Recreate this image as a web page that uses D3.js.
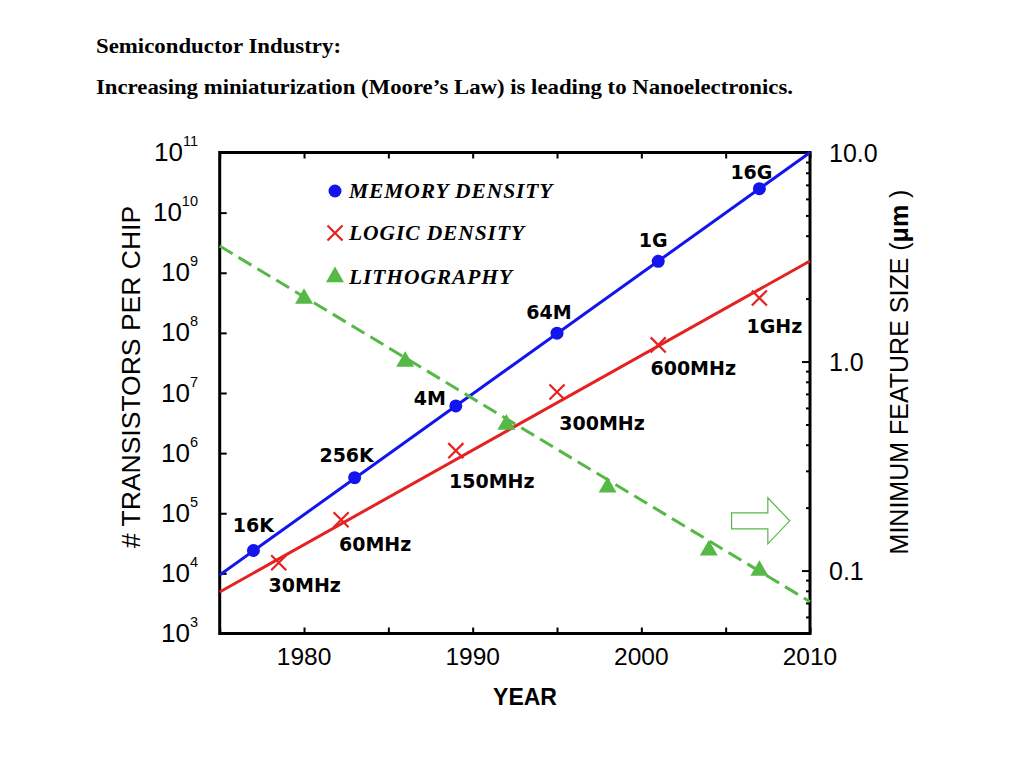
<!DOCTYPE html>
<html>
<head>
<meta charset="utf-8">
<script src="https://cdn.jsdelivr.net/npm/d3@7"></script>
<style>
  html, body { margin: 0; padding: 0; background: #fff; }
  svg { display: block; }
</style>
</head>
<body>
<svg id="chart" width="1024" height="768"></svg>
<script>
// ---------- data ----------
const memoryYears  = [1977, 1983, 1989, 1995, 2001, 2007];
const memoryValues = [2.4e4, 3.9e5, 6.1e6, 9.9e7, 1.55e9, 2.5e10];
const memoryLabels = ["16K", "256K", "4M", "64M", "1G", "16G"];

const logicYears  = [1978.5, 1982.2, 1989, 1995, 2001, 2007];
const logicValues = [1.5e4, 7.8e4, 1.1e6, 1.04e7, 6.3e7, 3.8e8];
const logicLabels = ["30MHz", "60MHz", "150MHz", "300MHz", "600MHz", "1GHz"];

const lithoYears  = [1980, 1986, 1992, 1998, 2004, 2007];
const lithoValues = [2.0, 1.0, 0.5, 0.25, 0.125, 0.1];   // µm, right axis

const memoryTrendYears = [1975, 2010], memoryTrendValues = [9.4e3, 1.0e11];
const logicTrendYears  = [1975, 2010], logicTrendValues  = [4.9e3, 1.57e9];
const lithoTrendYears  = [1975, 2010], lithoTrendValues  = [3.57, 0.071];

const yearTicks     = [1975, 1980, 1985, 1990, 1995, 2000, 2005, 2010];
const yearLabels    = [1980, 1990, 2000, 2010];
const leftExponents = [3, 4, 5, 6, 7, 8, 9, 10, 11];
const rightMajor    = [0.1, 1, 10];
const rightLabels   = ["0.1", "1.0", "10.0"];
const legendNames   = ["MEMORY DENSITY", "LOGIC DENSITY", "LITHOGRAPHY"];

const titleLine1 = "Semiconductor Industry:";
const titleLine2 = "Increasing miniaturization (Moore\u2019s Law) is leading to Nanoelectronics.";

// ---------- layout / style ----------
const L = 219.7, R = 810, T = 152.5, B = 633.5;
const BLUE = "#1414ee", RED = "#e52222", GREEN = "#56b846";
const SANS = "'Liberation Sans', Arial, Helvetica, sans-serif";
const SERIF = "'Liberation Serif', 'Times New Roman', serif";
const LABF = "'DejaVu Sans', Verdana, sans-serif";

// label offsets (dx for centre, dy for baseline) relative to the point
const memOff = [[0, -19], [-8, -16], [-26, -1], [-8, -14], [-5, -14], [-8, -10]];
const logOff = [[26, 29], [34, 31], [36, 37], [45, 38], [35, 30], [15, 35]];

const svg = d3.select("#chart");

const x  = d3.scaleLinear().domain([1975, 2010]).range([L, R]);
const yL = d3.scaleLog().domain([1e3, 1e11]).range([B, T]);
const yR = d3.scaleLog().domain([0.05, 10]).range([B, T]);

// ---------- header ----------
svg.append("text").attr("x", 96).attr("y", 53)
  .attr("font-family", SERIF).attr("font-weight", "bold").attr("font-size", 22)
  .attr("textLength", 245).attr("lengthAdjust", "spacingAndGlyphs")
  .text(titleLine1);
svg.append("text").attr("x", 96).attr("y", 94)
  .attr("font-family", SERIF).attr("font-weight", "bold").attr("font-size", 22)
  .attr("textLength", 697).attr("lengthAdjust", "spacingAndGlyphs")
  .text(titleLine2);

// ---------- axes ticks ----------
function styleAxis(g) {
  g.select(".domain").remove();
  g.selectAll(".tick line").attr("stroke", "#000").attr("stroke-width", 2);
  g.selectAll(".tick text").remove();
}
svg.append("g").attr("transform", `translate(0,${B})`)
  .call(d3.axisBottom(x).tickValues(yearTicks).tickSize(-6)).call(styleAxis);
svg.append("g").attr("transform", `translate(0,${T})`)
  .call(d3.axisTop(x).tickValues(yearTicks).tickSize(-6)).call(styleAxis);
svg.append("g").attr("transform", `translate(${L},0)`)
  .call(d3.axisLeft(yL).tickValues(leftExponents.map(e => Math.pow(10, e))).tickSize(-7)).call(styleAxis);

const rightMinor = [];
[0.01, 0.1, 1].forEach(d => { for (let k = 2; k <= 9; k++) { const v = +(k * d).toFixed(3); if (v >= 0.05 && v <= 10) rightMinor.push(v); } });
svg.append("g").attr("transform", `translate(${R},0)`)
  .call(d3.axisRight(yR).tickValues(rightMinor).tickSize(-4)).call(styleAxis);
svg.append("g").attr("transform", `translate(${R},0)`)
  .call(d3.axisRight(yR).tickValues(rightMajor).tickSize(-8)).call(styleAxis);

// frame
svg.append("rect").attr("x", L).attr("y", T).attr("width", R - L).attr("height", B - T)
  .attr("fill", "none").attr("stroke", "#000").attr("stroke-width", 3);

// tick labels
svg.append("g").selectAll("text").data(yearLabels).join("text")
  .attr("x", d => x(d)).attr("y", 665).attr("text-anchor", "middle")
  .attr("font-family", SANS).attr("font-size", 24.5).text(d => d);

const leftLab = svg.append("g").selectAll("text").data(leftExponents).join("text")
  .attr("x", 198).attr("y", d => yL(Math.pow(10, d)) + 8.5).attr("text-anchor", "end")
  .attr("font-family", SANS).attr("font-size", 26);
leftLab.append("tspan").text("10");
leftLab.append("tspan").attr("dy", -15).attr("font-size", 14.5).text(d => d);

svg.append("g").selectAll("text").data(rightMajor).join("text")
  .attr("x", 829).attr("y", d => yR(d) + 9).attr("font-family", SANS).attr("font-size", 25)
  .text((d, i) => rightLabels[i]);

// axis titles
svg.append("text").attr("x", 525).attr("y", 705).attr("text-anchor", "middle")
  .attr("font-family", SANS).attr("font-weight", "bold").attr("font-size", 23).text("YEAR");

svg.append("text").attr("transform", "translate(140,377) rotate(-90)").attr("text-anchor", "middle")
  .attr("font-family", SANS).attr("font-size", 26.5).text("# TRANSISTORS PER CHIP");

const rt = svg.append("text").attr("transform", "translate(908,372) rotate(-90)").attr("text-anchor", "middle")
  .attr("font-family", SANS).attr("font-size", 25);
rt.append("tspan").text("MINIMUM FEATURE SIZE (");
rt.append("tspan").attr("font-weight", "bold").text("\u03bcm");
rt.append("tspan").text(" )");

// ---------- lines ----------
const plot = svg.append("g");
const lineL = d3.line().x(d => x(d[0])).y(d => yL(d[1]));
const lineR = d3.line().x(d => x(d[0])).y(d => yR(d[1]));

plot.append("path").datum(d3.zip(memoryTrendYears, memoryTrendValues))
  .attr("d", lineL).attr("fill", "none").attr("stroke", BLUE).attr("stroke-width", 3);
plot.append("path").datum(d3.zip(logicTrendYears, logicTrendValues))
  .attr("d", lineL).attr("fill", "none").attr("stroke", RED).attr("stroke-width", 3);
plot.append("path").datum(d3.zip(lithoTrendYears, lithoTrendValues))
  .attr("d", lineR).attr("fill", "none").attr("stroke", GREEN).attr("stroke-width", 3)
  .attr("stroke-dasharray", "15,7");

// ---------- markers ----------
const tri = d3.symbol().type(d3.symbolTriangle).size(140);
plot.selectAll(".litho").data(d3.zip(lithoYears, lithoValues)).join("path")
  .attr("transform", d => `translate(${x(d[0])},${yR(d[1])})`).attr("d", tri).attr("fill", GREEN);

plot.selectAll(".mem").data(d3.zip(memoryYears, memoryValues)).join("circle")
  .attr("cx", d => x(d[0])).attr("cy", d => yL(d[1])).attr("r", 6.5).attr("fill", BLUE);

const cross = d3.symbol().type(d3.symbolX).size(150);
plot.selectAll(".log").data(d3.zip(logicYears, logicValues)).join("path")
  .attr("transform", d => `translate(${x(d[0])},${yL(d[1])})`).attr("d", cross)
  .attr("fill", "none").attr("stroke", RED).attr("stroke-width", 2.2);

// ---------- point labels ----------
plot.selectAll(".memlab").data(memoryLabels).join("text")
  .attr("x", (d, i) => x(memoryYears[i]) + memOff[i][0])
  .attr("y", (d, i) => yL(memoryValues[i]) + memOff[i][1])
  .attr("text-anchor", "middle").attr("font-family", LABF).attr("font-weight", "bold")
  .attr("font-size", 19).text(d => d);
plot.selectAll(".loglab").data(logicLabels).join("text")
  .attr("x", (d, i) => x(logicYears[i]) + logOff[i][0])
  .attr("y", (d, i) => yL(logicValues[i]) + logOff[i][1])
  .attr("text-anchor", "middle").attr("font-family", LABF).attr("font-weight", "bold")
  .attr("font-size", 19).text(d => d);

// ---------- legend ----------
const lg = svg.append("g");
const legY = [191, 233, 277];
lg.append("circle").attr("cx", 335).attr("cy", legY[0]).attr("r", 6.5).attr("fill", BLUE);
lg.append("path").attr("transform", `translate(335,${legY[1]})`).attr("d", cross)
  .attr("fill", "none").attr("stroke", RED).attr("stroke-width", 2.2);
lg.append("path").attr("transform", `translate(335,${legY[2]})`).attr("d", tri).attr("fill", GREEN);
lg.selectAll("text").data(legendNames).join("text")
  .attr("x", 349).attr("y", (d, i) => legY[i] + 6.5)
  .attr("font-family", SERIF).attr("font-weight", "bold").attr("font-style", "italic")
  .attr("font-size", 21.5).attr("letter-spacing", 0.9).text(d => d);

// ---------- hollow arrow pointing to right axis ----------
const ax0 = x(2005.35), ax1 = x(2007.5), ax2 = x(2008.8), acy = yR(0.173);
svg.append("path")
  .attr("d", `M${ax0},${acy - 8} L${ax1},${acy - 8} L${ax1},${acy - 23} L${ax2},${acy} ` +
             `L${ax1},${acy + 23} L${ax1},${acy + 8} L${ax0},${acy + 8} Z`)
  .attr("fill", "#fff").attr("stroke", GREEN).attr("stroke-width", 1.2);
</script>
</body>
</html>
